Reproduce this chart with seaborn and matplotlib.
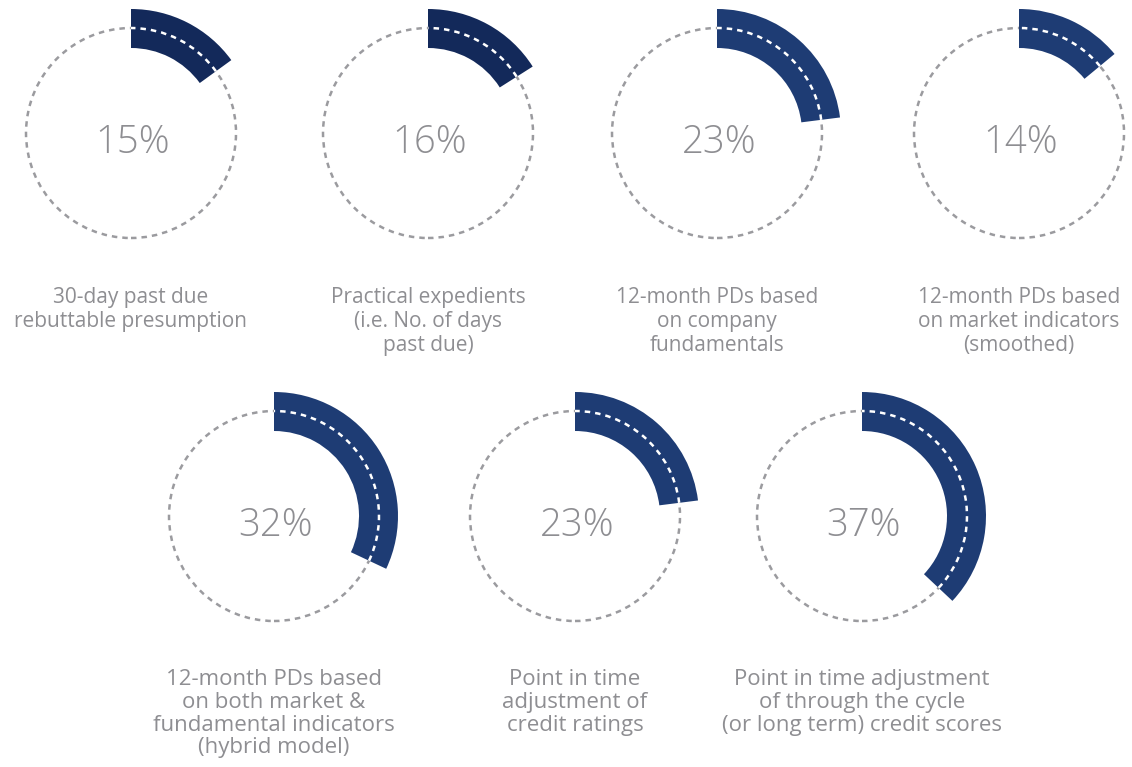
import matplotlib
matplotlib.use("Agg")
import matplotlib.pyplot as plt
from matplotlib.patches import Wedge, Circle, Arc
import seaborn as sns

# Survey results: share of respondents using each approach
labels = [
    "30-day past due\nrebuttable presumption",
    "Practical expedients\n(i.e. No. of days\npast due)",
    "12-month PDs based\non company\nfundamentals",
    "12-month PDs based\non market indicators\n(smoothed)",
    "12-month PDs based\non both market &\nfundamental indicators\n(hybrid model)",
    "Point in time\nadjustment of\ncredit ratings",
    "Point in time adjustment\nof through the cycle\n(or long term) credit scores",
]
values = [15, 16, 23, 14, 32, 23, 37]
band_colors = ["#13295a", "#13295a", "#1e3c74", "#1e3c74", "#1e3c74", "#1e3c74", "#1e3c74"]
rows = [0, 0, 0, 0, 1, 1, 1]

sns.set_theme(style="white")
plt.rcParams["font.family"] = ["Open Sans", "DejaVu Sans"]

W, H = 1132, 767
fig = plt.figure(figsize=(W / 100, H / 100), dpi=100)
ax = fig.add_axes([0, 0, 1, 1])
ax.set_xlim(0, W)
ax.set_ylim(0, H)
ax.set_axis_off()

# ring layout (pixel space, y measured from the top)
centers_x = [131, 428, 717, 1019, 274, 575, 862]
row_cy = [133, 516]
label_top = [287, 669]
R_CIRCLE = 105
R_OUT, R_IN = 124, 85
GRAY = "#9b9b9f"
TEXT_GRAY = "#8e8e92"

for lab, val, col, row, cx in zip(labels, values, band_colors, rows, centers_x):
    cy = H - row_cy[row]
    # dashed background circle
    ax.add_patch(Circle((cx, cy), R_CIRCLE, fill=False, edgecolor=GRAY,
                        linewidth=1.8, linestyle=(0, (2.2, 2.0)), zorder=1))
    # value band, clockwise from 12 o'clock
    start = 90 - val / 100 * 360
    ax.add_patch(Wedge((cx, cy), R_OUT, start, 90, width=R_OUT - R_IN,
                       facecolor=col, edgecolor="none", zorder=2))
    # white dashed guide along the band
    ax.add_patch(Arc((cx, cy), 2 * R_CIRCLE, 2 * R_CIRCLE, theta1=start, theta2=90,
                     edgecolor="white", linewidth=1.8, linestyle=(0, (2.2, 2.0)), zorder=3))
    ax.text(cx + 2, cy - 5, f"{val}%", ha="center", va="center_baseline", fontsize=27.5,
            color=TEXT_GRAY, fontweight="light", zorder=4)
    if row == 0:
        ax.text(cx, H - label_top[row], lab, ha="center", va="top", fontsize=15,
                color=TEXT_GRAY, linespacing=1.19)
    else:
        ax.text(cx, H - label_top[row], lab, ha="center", va="top", fontsize=16,
                color=TEXT_GRAY, linespacing=1.11)

fig.savefig("out.png", dpi=100, facecolor="white")
